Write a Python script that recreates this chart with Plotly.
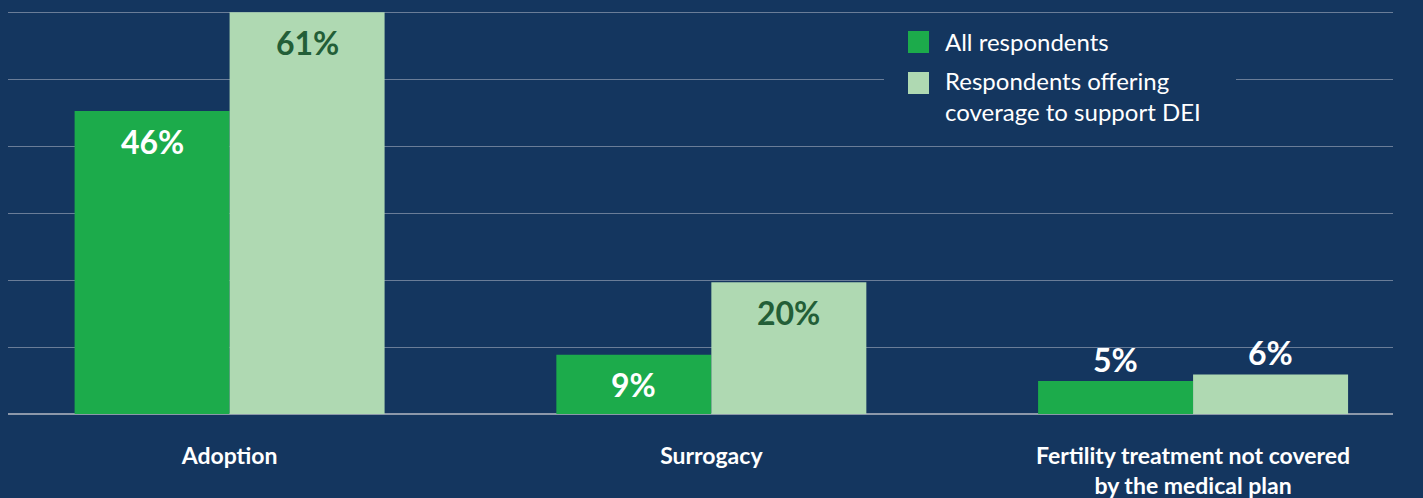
import plotly.graph_objects as go

# chart data
CATEGORIES = ["Adoption", "Surrogacy", "Fertility treatment not covered<br>by the medical plan"]
ALL_RESP = [46, 9, 5]
DEI_RESP = [61, 20, 6]
SERIES_NAMES = ["All respondents", "Respondents offering<br>coverage to support DEI"]

# palette
BG = "#14365f"
GREEN = "#1cab4b"
LIGHT = "#afd9b2"
DARK_TXT = "#235e37"
GRID = "#6a7d98"
FONT = "Lato"

# plot area in pixels (for the hand-built legend)
L, R, T, B = 8, 30, 11, 84
W, H = 1423, 498
PW, PH = W - L - R, H - T - B


def px_x(x):
    return (x - L) / PW


def px_y(y):
    return (H - B - y) / PH


fig = go.Figure()
fig.add_trace(go.Bar(x=CATEGORIES, y=ALL_RESP, name=SERIES_NAMES[0],
                     marker=dict(color=GREEN, line=dict(width=0)), showlegend=False))
fig.add_trace(go.Bar(x=CATEGORIES, y=DEI_RESP, name=SERIES_NAMES[1],
                     marker=dict(color=LIGHT, line=dict(width=0)), showlegend=False))

# value labels: inside near top for tall bars, above for short ones
half = 77.5
for vals, shift, in_col in [(ALL_RESP, -half, "white"), (DEI_RESP, half, DARK_TXT)]:
    for cat, v in zip(CATEGORIES, vals):
        inside = v >= 8
        fig.add_annotation(x=cat, y=v, text=f"{v}%", showarrow=False,
                           xshift=shift, yshift=-30 if inside else 22,
                           font=dict(family=FONT, size=32, weight="bold",
                                     color=in_col if inside else "white"))

# legend drawn by hand (big square swatches, background masks the grid)
fig.add_shape(type="rect", xref="paper", yref="paper", layer="above",
              x0=px_x(884), x1=px_x(1236), y0=px_y(130), y1=px_y(22),
              fillcolor=BG, line=dict(width=0))
for (top, bot, ty), col, name in zip([(31, 53, 42), (72, 94, 96)], [GREEN, LIGHT], SERIES_NAMES):
    fig.add_shape(type="rect", xref="paper", yref="paper", layer="above",
                  x0=px_x(908), x1=px_x(929), y0=px_y(bot), y1=px_y(top),
                  fillcolor=col, line=dict(width=0))
    fig.add_annotation(xref="paper", yref="paper", x=px_x(943), y=px_y(ty),
                       xanchor="left", yanchor="middle", align="left", showarrow=False,
                       text=name, font=dict(family=FONT, size=24, color="white"))

fig.update_yaxes(range=[0, 61.2], tick0=0, dtick=61 / 6, showticklabels=False,
                 gridcolor=GRID, gridwidth=1, zeroline=True, zerolinecolor="#8c98aa",
                 zerolinewidth=1.5, showline=False, automargin=False)
fig.update_xaxes(range=[-0.46, 2.415], showgrid=False, showline=False,
                 ticklabelstandoff=26, automargin=False,
                 tickfont=dict(family=FONT, size=23, color="white", weight="bold"))
fig.update_layout(
    width=W, height=H, barmode="group", bargap=0.3565, bargroupgap=0,
    paper_bgcolor=BG, plot_bgcolor=BG, showlegend=False,
    margin=dict(l=L, r=R, t=T, b=B), font=dict(family=FONT, color="white"))
fig.write_html("out.html", config={"displayModeBar": False},
               post_script="document.body.style.margin='0';"
                           f"document.body.style.background='{BG}';")
